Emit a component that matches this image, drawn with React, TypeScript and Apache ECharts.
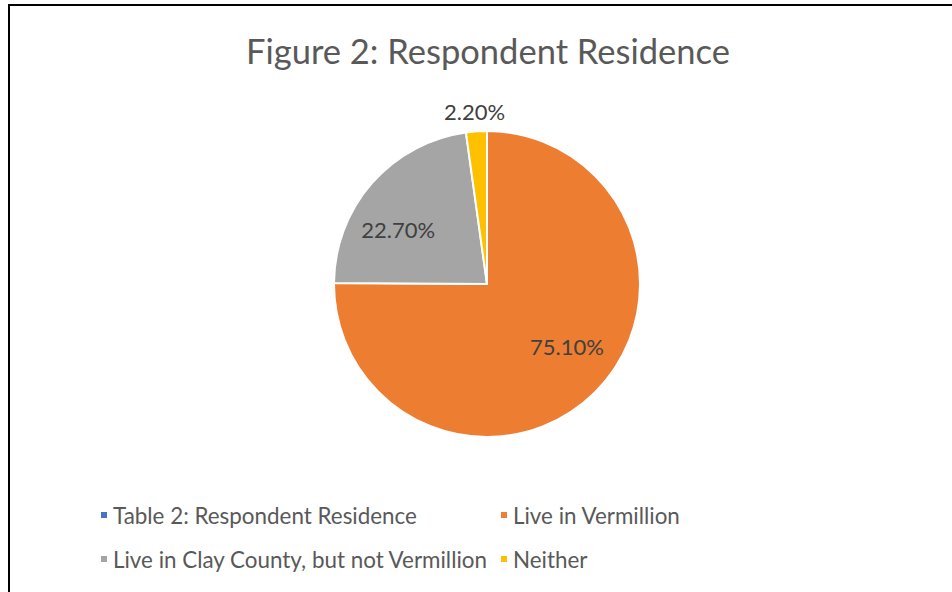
import React, { useEffect, useRef } from "react";
import * as echarts from "echarts";

const titleText = "Figure 2: Respondent Residence";
const categories = [
  "Table 2: Respondent Residence",
  "Live in Vermillion",
  "Live in Clay County, but not Vermillion",
  "Neither",
];
const values = [0, 75.1, 22.7, 2.2];
const colors = ["#4472C4", "#ED7D31", "#A5A5A5", "#FFC000"];
const labelOffsets = [
  [0, 0],
  [24, 6],
  [-29, -2],
  [-7, -93],
];

const FONT = "Lato";

export default function App() {
  const ref = useRef<HTMLDivElement>(null);
  useEffect(() => {
    const chart = echarts.init(ref.current!, null, { renderer: "svg" });
    const legendText = { color: "#595959", fontSize: 22.4, lineHeight: 22, fontFamily: FONT };
    const legendBase = {
      orient: "vertical",
      top: 504,
      padding: 0,
      itemGap: 22,
      itemWidth: 8,
      itemHeight: 8,
      icon: "rect",
      textStyle: legendText,
      selectedMode: false,
    };
    chart.setOption({
      animation: false,
      backgroundColor: "#ffffff",
      title: {
        text: titleText,
        left: 483,
        textAlign: "center",
        top: 28,
        textStyle: { color: "#595959", fontSize: 34.5, fontWeight: "normal", fontFamily: FONT },
      },
      graphic: [
        {
          type: "rect",
          shape: { x: 9, y: 5, width: 1000, height: 700 },
          style: { fill: "none", stroke: "#000", lineWidth: 2 },
          silent: true,
        },
      ],
      legend: [
        { ...legendBase, left: 99, data: [categories[0], categories[2]] },
        { ...legendBase, left: 499, data: [categories[1], categories[3]] },
      ],
      series: [
        {
          type: "pie",
          center: [487, 284],
          radius: 153,
          startAngle: 90,
          clockwise: true,
          silent: true,
          itemStyle: { borderColor: "#ffffff", borderWidth: 2 },
          label: {
            show: true,
            position: "inside",
            color: "#404040",
            fontSize: 22,
            fontFamily: FONT,
            formatter: (p: any) => p.value.toFixed(2) + "%",
          },
          labelLine: { show: false },
          labelLayout: (p: any) => ({
            dx: labelOffsets[p.dataIndex][0],
            dy: labelOffsets[p.dataIndex][1],
          }),
          data: categories.map((name, i) => ({
            name,
            value: values[i],
            itemStyle: { color: colors[i] },
            label: i === 0 ? { show: false } : undefined,
          })),
        },
      ],
    });
    return () => chart.dispose();
  }, []);
  return (
    <div
      ref={ref}
      style={{ position: "absolute", left: 0, top: 0, width: 952, height: 592 }}
    />
  );
}
